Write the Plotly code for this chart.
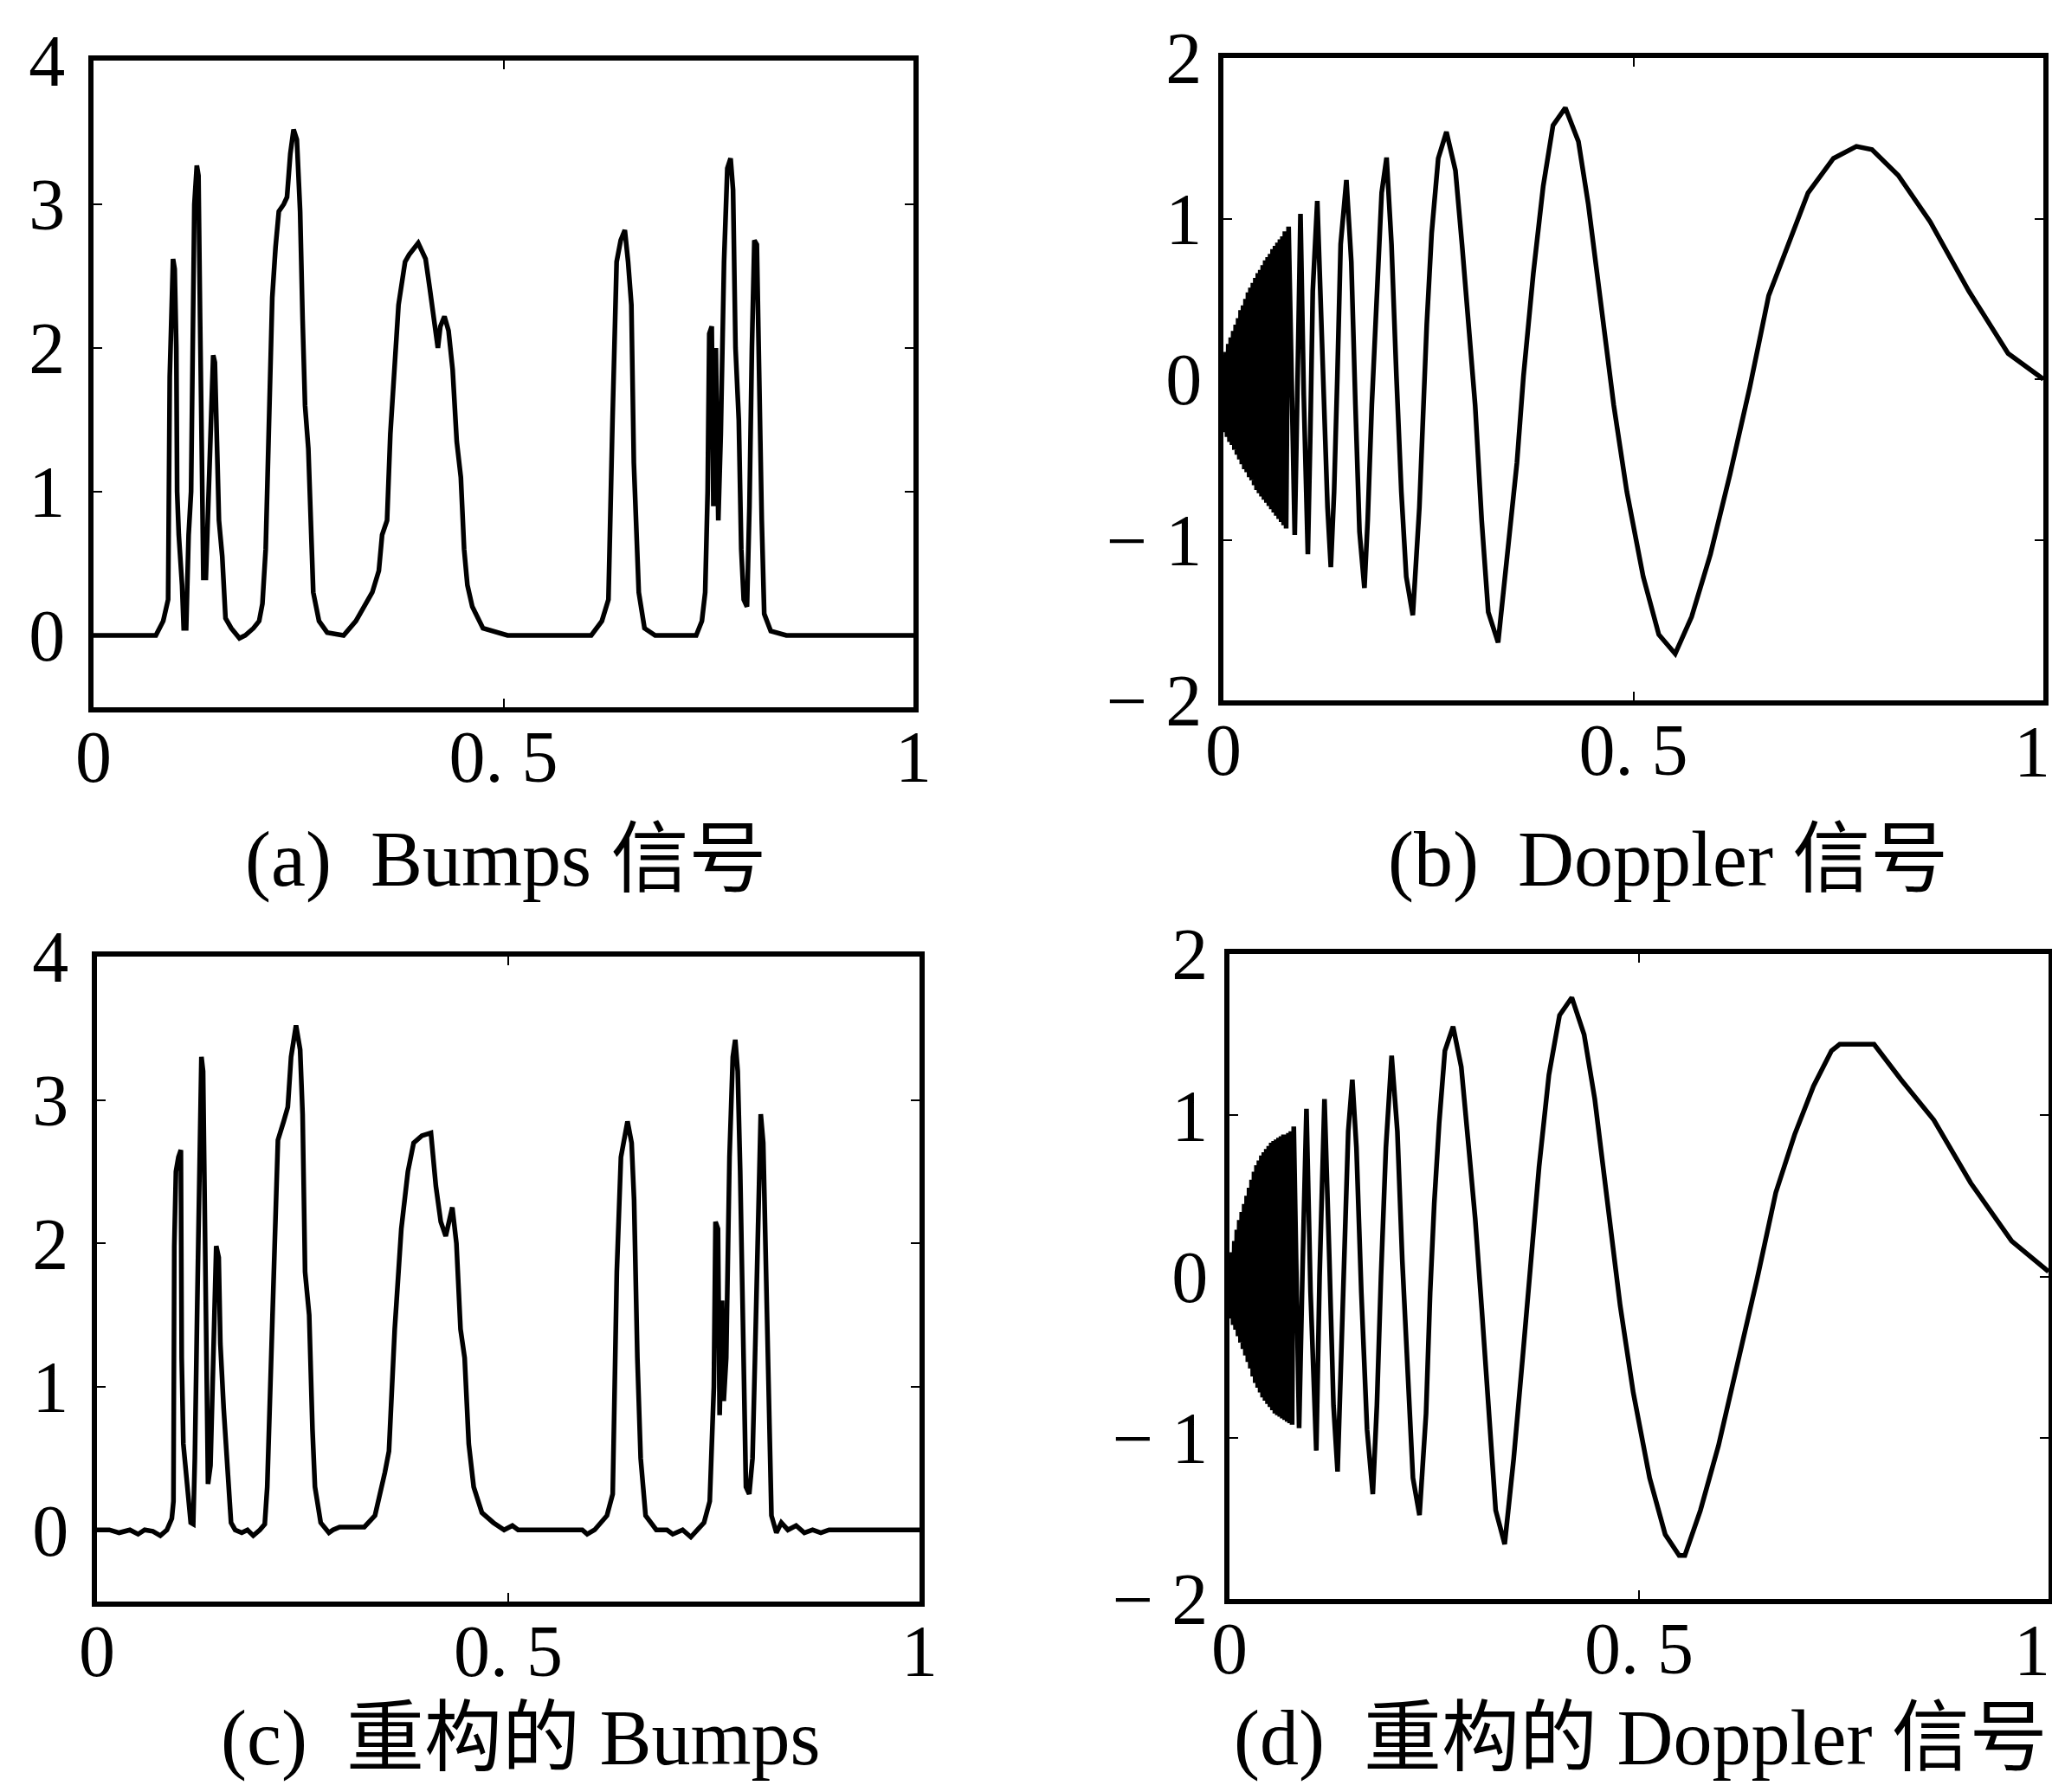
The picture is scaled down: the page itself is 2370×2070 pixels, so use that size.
import plotly.graph_objects as go

W, H = 2370, 2070

# ---------------- data ----------------
bumps_x = [0, 0.076, 0.085, 0.091, 0.093, 0.095, 0.097, 0.099, 0.101, 0.102, 0.104, 0.108, 0.110, 0.113,
           0.116, 0.119, 0.121, 0.123, 0.126, 0.128, 0.130, 0.132, 0.134, 0.137,
           0.140, 0.143, 0.146, 0.148, 0.150, 0.153, 0.157, 0.161, 0.168, 0.178, 0.185, 0.195, 0.202, 0.206,
           0.210, 0.212, 0.215, 0.218, 0.222, 0.226, 0.232, 0.236, 0.240, 0.244, 0.248, 0.252, 0.255, 0.258,
           0.262, 0.265, 0.268, 0.275, 0.285, 0.305,
           0.320, 0.340, 0.348, 0.352, 0.358, 0.362, 0.368, 0.372, 0.380, 0.385, 0.396, 0.405, 0.410, 0.415,
           0.420, 0.423, 0.428, 0.433, 0.438, 0.443, 0.448, 0.452, 0.456, 0.462, 0.475, 0.505,
           0.607, 0.620, 0.628, 0.633, 0.638, 0.643, 0.648, 0.652, 0.656, 0.659, 0.662, 0.665, 0.672, 0.685,
           0.735, 0.742, 0.746, 0.749, 0.751, 0.754, 0.756, 0.759, 0.762, 0.765, 0.769, 0.773, 0.777, 0.780,
           0.783, 0.787, 0.790, 0.793, 0.797, 0.800, 0.803, 0.806, 0.809, 0.812, 0.815, 0.818, 0.826, 0.845, 1.0]
bumps_y = [0, 0, 0.10, 0.25, 1.80, 2.30, 2.62, 2.55, 2.00, 1.00, 0.70, 0.35, 0.05, 0.05,
           0.70, 1.00, 2.00, 3.00, 3.27, 3.20, 2.20, 1.20, 0.40, 0.40,
           1.00, 1.60, 1.95, 1.90, 1.30, 0.80, 0.55, 0.12, 0.05, -0.02, 0.00, 0.05, 0.10, 0.22,
           0.60, 1.00, 1.80, 2.35, 2.70, 2.95, 3.00, 3.05, 3.35, 3.52, 3.45, 2.95, 2.20, 1.60,
           1.30, 0.70, 0.30, 0.10, 0.02, 0.00,
           0.10, 0.30, 0.45, 0.70, 0.80, 1.40, 1.90, 2.30, 2.60, 2.65, 2.73, 2.62, 2.42, 2.20,
           2.00, 2.15, 2.22, 2.12, 1.85, 1.35, 1.10, 0.60, 0.35, 0.20, 0.05, 0.00,
           0.00, 0.10, 0.25, 1.50, 2.60, 2.75, 2.82, 2.60, 2.30, 1.20, 0.70, 0.30, 0.05, 0.00,
           0.00, 0.10, 0.30, 1.00, 2.10, 2.15, 0.90, 2.00, 0.80, 1.40, 2.60, 3.25, 3.32, 3.10,
           2.00, 1.50, 0.60, 0.25, 0.20, 0.90, 2.00, 2.75, 2.72, 1.50, 0.80, 0.15, 0.03, 0.00, 0.00]

rbumps_x = [0, 0.015, 0.027, 0.040, 0.050, 0.058, 0.068, 0.077, 0.085, 0.088, 0.091, 0.093, 0.094, 0.096,
            0.099, 0.102, 0.103, 0.105, 0.110, 0.114, 0.117, 0.119, 0.122, 0.124, 0.127, 0.129, 0.131,
            0.133, 0.135, 0.138, 0.141, 0.145, 0.148, 0.150, 0.154, 0.158, 0.163, 0.168, 0.176, 0.183,
            0.190, 0.198, 0.204, 0.207, 0.212, 0.216, 0.220, 0.227, 0.232, 0.236, 0.242, 0.247, 0.250,
            0.253, 0.258, 0.262, 0.265, 0.272, 0.282, 0.287, 0.295, 0.325, 0.338, 0.350, 0.355, 0.362,
            0.370, 0.378, 0.385, 0.395, 0.406, 0.412, 0.418, 0.424, 0.428, 0.432, 0.437, 0.442, 0.447,
            0.452, 0.458, 0.468, 0.482, 0.495, 0.505, 0.512, 0.590, 0.596, 0.605, 0.612, 0.620, 0.627,
            0.632, 0.637, 0.645, 0.650, 0.653, 0.657, 0.661, 0.667, 0.680, 0.693, 0.700, 0.712, 0.722,
            0.730, 0.738, 0.745, 0.750, 0.752, 0.755, 0.757, 0.760, 0.762, 0.765, 0.769, 0.773, 0.776,
            0.779, 0.782, 0.786, 0.789, 0.793, 0.797, 0.800, 0.803, 0.807, 0.810, 0.813, 0.816, 0.820,
            0.826, 0.832, 0.840, 0.850, 0.860, 0.870, 0.880, 0.890, 1.0]
rbumps_y = [0, 0.00, -0.02, 0.00, -0.03, 0.00, -0.01, -0.04, 0.00, 0.05, 0.08, 0.20, 1.98, 2.50,
            2.60, 2.65, 1.20, 0.60, 0.25, 0.05, 0.04, 0.50, 1.60, 2.50, 3.30, 3.20, 2.20,
            0.90, 0.32, 0.45, 1.20, 1.98, 1.90, 1.30, 0.85, 0.50, 0.05, 0.00, -0.02, 0.00,
            -0.04, 0.00, 0.04, 0.30, 1.20, 2.00, 2.72, 2.85, 2.95, 3.30, 3.52, 3.35, 2.90,
            1.80, 1.50, 0.70, 0.30, 0.05, -0.02, 0.00, 0.02, 0.02, 0.10, 0.40, 0.55, 1.40,
            2.10, 2.50, 2.70, 2.75, 2.77, 2.40, 2.15, 2.05, 2.15, 2.25, 2.00, 1.40, 1.20,
            0.60, 0.30, 0.12, 0.05, 0.00, 0.03, 0.00, 0.00, -0.03, 0.00, 0.05, 0.10, 0.25,
            1.80, 2.60, 2.85, 2.70, 2.30, 1.20, 0.50, 0.10, 0.00, 0.00, -0.03, 0.00, -0.05,
            0.00, 0.05, 0.20, 1.00, 2.15, 2.10, 0.80, 1.60, 0.90, 1.20, 2.60, 3.30, 3.42,
            3.20, 2.50, 1.20, 0.30, 0.25, 0.50, 1.20, 2.00, 2.90, 2.70, 2.00, 1.00, 0.10,
            -0.02, 0.05, 0.00, 0.03, -0.02, 0.00, -0.02, 0.00, 0.00]

# dense high-frequency start of the Doppler curves (x positions shared by (b) and (d))
dense_x = [0.0000, 0.0015, 0.0030, 0.0045, 0.0060, 0.0075, 0.0090, 0.0105, 0.0120, 0.0135,
           0.0150, 0.0165, 0.0180, 0.0195, 0.0210, 0.0225, 0.0240, 0.0255, 0.0270, 0.0285,
           0.0300, 0.0315, 0.0330, 0.0345, 0.0360, 0.0375, 0.0390, 0.0405, 0.0420, 0.0435,
           0.0450, 0.0465, 0.0480, 0.0495, 0.0510, 0.0525, 0.0540, 0.0555, 0.0570, 0.0585,
           0.0600, 0.0615, 0.0630, 0.0645, 0.0660, 0.0675, 0.0690, 0.0705, 0.0720, 0.0735, 0.0750]

doppler_x = dense_x + [0.0765, 0.0795, 0.083, 0.087, 0.0905, 0.094, 0.098, 0.103, 0.106, 0.109, 0.1145,
             0.117, 0.122, 0.127, 0.131, 0.135, 0.139, 0.143, 0.150, 0.156, 0.161, 0.166, 0.172, 0.176,
             0.181, 0.187, 0.193, 0.199, 0.205, 0.211, 0.217, 0.223, 0.231, 0.239, 0.244, 0.248, 0.254,
             0.262, 0.272, 0.283, 0.291, 0.299, 0.307, 0.315, 0.323, 0.335, 0.346, 0.358, 0.366,
             0.378, 0.390, 0.402, 0.417, 0.433, 0.445, 0.461, 0.476, 0.492, 0.512, 0.531, 0.551,
             0.571, 0.594, 0.618, 0.642, 0.665, 0.689, 0.713, 0.744, 0.772, 0.791, 0.823, 0.862,
             0.909, 0.957, 1.0]
doppler_y = [0.12, -0.33, 0.17, -0.36, 0.22, -0.39, 0.26, -0.41, 0.30, -0.44,
             0.34, -0.47, 0.38, -0.50, 0.43, -0.53, 0.46, -0.56, 0.50, -0.58,
             0.54, -0.61, 0.57, -0.63, 0.60, -0.66, 0.63, -0.69, 0.66, -0.71,
             0.68, -0.73, 0.71, -0.75, 0.74, -0.77, 0.76, -0.79, 0.78, -0.81,
             0.81, -0.83, 0.83, -0.85, 0.85, -0.87, 0.87, -0.89, 0.89, -0.91, 0.92,
             -0.93, 0.95, 0.00, -0.97, 0.00, 1.03, -0.10, -1.09, -0.34, 0.55, 1.11,
             0.73, 0.02, -0.80, -1.17, -0.70, 0.02, 0.84, 1.24, 0.73, -0.16, -0.95, -1.30, -0.875,
             -0.16, 0.55, 1.16, 1.38, 0.84, 0.02, -0.70, -1.23, -1.47, -0.80, -0.16, 0.34, 0.91,
             1.375, 1.54, 1.30, 0.84, 0.375, -0.16, -0.88, -1.45, -1.64, -1.13, -0.52, 0.02,
             0.66, 1.20, 1.58, 1.69, 1.48, 1.09, 0.45, -0.16, -0.70, -1.23, -1.59, -1.71,
             -1.48, -1.09, -0.59, -0.05, 0.52, 0.84, 1.16, 1.375, 1.45, 1.43, 1.27, 0.98,
             0.55, 0.16, 0.00]

rdoppler_x = dense_x + [0.0765, 0.0785, 0.082, 0.085, 0.089, 0.094, 0.099, 0.106, 0.110, 0.116, 0.122,
              0.127, 0.132, 0.136, 0.140, 0.145, 0.150, 0.155, 0.161, 0.168, 0.175, 0.180, 0.185,
              0.191, 0.198, 0.205, 0.211, 0.218, 0.224, 0.232, 0.240, 0.245, 0.250, 0.256, 0.263,
              0.273, 0.283, 0.291, 0.300, 0.308, 0.317, 0.325, 0.336, 0.347, 0.358, 0.367, 0.378,
              0.390, 0.403, 0.418, 0.433, 0.446, 0.462, 0.477, 0.493, 0.513, 0.532, 0.549, 0.556,
              0.575, 0.597, 0.620, 0.644, 0.667, 0.690, 0.713, 0.735, 0.745, 0.787, 0.820, 0.860,
              0.905, 0.955, 1.0]
rdoppler_y = [0.08, -0.26, 0.15, -0.30, 0.22, -0.33, 0.29, -0.37, 0.35, -0.41,
              0.40, -0.45, 0.45, -0.49, 0.50, -0.53, 0.55, -0.57, 0.60, -0.62,
              0.65, -0.66, 0.69, -0.69, 0.72, -0.72, 0.75, -0.75, 0.77, -0.77,
              0.79, -0.79, 0.81, -0.81, 0.83, -0.83, 0.84, -0.85, 0.85, -0.86,
              0.86, -0.87, 0.87, -0.88, 0.88, -0.89, 0.88, -0.90, 0.89, -0.91, 0.90,
              -0.92, 0.93, 0.00, -0.94, 0.00, 1.04, -0.10, -1.08, 0.00, 1.10, 0.10,
              -0.80, -1.21, -0.60, 0.10, 0.90, 1.22, 0.80, -0.10, -0.95, -1.35, -0.80, 0.00,
              0.80, 1.37, 0.90, 0.10, -0.70, -1.25, -1.48, -0.85, -0.10, 0.45, 0.95, 1.40,
              1.55, 1.30, 0.86, 0.36, -0.20, -0.90, -1.45, -1.66, -1.13, -0.50, 0.05, 0.68,
              1.25, 1.62, 1.73, 1.50, 1.10, 0.45, -0.18, -0.72, -1.25, -1.60, -1.73, -1.73,
              -1.45, -1.05, -0.55, -0.02, 0.52, 0.88, 1.18, 1.40, 1.44, 1.44, 1.22, 0.97,
              0.58, 0.22, 0.03]

x_tickvals = [0, 0.5, 1]
x_ticktext = ["0", "0. 5", "1"]
x_ticktext_edge = ["0", "0. 5", ""]      # the "1" at the page edge is drawn as a separate label
bumps_tickvals = [0, 1, 2, 3, 4]
bumps_ticktext = ["0", "1", "2", "3", "4"]
doppler_tickvals = [-2, -1, 0, 1, 2]
doppler_ticktext = ["\u2212 2", "\u2212 1", "0", "1", "2"]

captions = ["(a)\u2002Bumps 信号", "(b)\u2002Doppler 信号",
            "(c)\u2002重构的 Bumps", "(d)\u2002重构的 Doppler 信号"]

# ---------------- layout geometry (pixels) ----------------
boxes = [  # left, right, top, bottom
    (108, 1055, 70, 817),
    (1413, 2360, 67, 809),
    (112, 1062, 1105, 1850),
    (1420, 2366, 1102, 1847),
]
cap_pos = [(584, 993), (1926, 993), (601, 2008), (1895, 2008)]
edge_one_y = [None, 868, None, 1906]
ylab_standoff = [10, 2, 10, 2]

FONT = "Liberation Serif, Noto Sans CJK SC, serif"
series = [(bumps_x, bumps_y), (doppler_x, doppler_y), (rbumps_x, rbumps_y), (rdoppler_x, rdoppler_y)]

fig = go.Figure()
layout = dict(width=W, height=H, margin=dict(l=0, r=0, t=0, b=0, pad=0, autoexpand=False),
              paper_bgcolor="white", plot_bgcolor="white", showlegend=False,
              font=dict(family=FONT, size=84, color="black"))

annotations = []
for i, ((xs, ys), (l, r, t, b)) in enumerate(zip(series, boxes)):
    k = "" if i == 0 else str(i + 1)
    fig.add_trace(go.Scatter(x=xs, y=ys, mode="lines", xaxis="x" + k, yaxis="y" + k,
                             line=dict(color="black", width=5.5), hoverinfo="skip"))
    is_bumps = i in (0, 2)
    layout["xaxis" + k] = dict(domain=[l / W, r / W], anchor="y" + k, range=[0, 1],
                               automargin=False,
                               showline=True, mirror="ticks", linecolor="black", linewidth=6,
                               ticks="inside", ticklen=10, tickwidth=2, tickcolor="black",
                               tickvals=x_tickvals,
                               ticktext=x_ticktext if is_bumps else x_ticktext_edge,
                               showgrid=False, zeroline=False, ticklabelstandoff=-21,
                               tickfont=dict(family=FONT, size=84))
    layout["yaxis" + k] = dict(domain=[1 - b / H, 1 - t / H], anchor="x" + k,
                               range=[-0.5, 4] if is_bumps else [-2, 2],
                               automargin=False,
                               showline=True, mirror="ticks", linecolor="black", linewidth=6,
                               ticks="inside", ticklen=10, tickwidth=2, tickcolor="black",
                               tickvals=bumps_tickvals if is_bumps else doppler_tickvals,
                               ticktext=bumps_ticktext if is_bumps else doppler_ticktext,
                               showgrid=False, zeroline=False, ticklabelstandoff=ylab_standoff[i],
                               tickfont=dict(family=FONT, size=84))
    if edge_one_y[i] is not None:
        annotations.append(dict(text=x_ticktext[-1], x=1.0, y=1 - edge_one_y[i] / H,
                                xref="paper", yref="paper", xanchor="right", yanchor="middle",
                                showarrow=False, font=dict(family=FONT, size=84, color="black")))

for txt, (cx, cy) in zip(captions, cap_pos):
    annotations.append(dict(text=txt, x=cx / W, y=1 - cy / H, xref="paper", yref="paper",
                            xanchor="center", yanchor="middle", showarrow=False,
                            font=dict(family=FONT, size=90, color="black")))
layout["annotations"] = annotations
fig.update_layout(**layout)
fig.write_html("out.html")
